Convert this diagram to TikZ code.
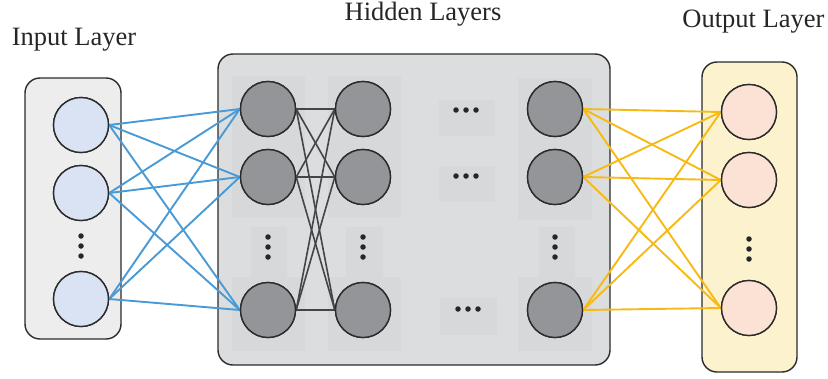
\documentclass[tikz,border=0pt]{standalone}
\usepackage{fontspec}
\setmainfont{Liberation Serif}
\newfontfamily\titlefont{Liberation Serif}
\definecolor{inbox}{HTML}{EDEDED}
\definecolor{hidbox}{HTML}{DCDDDF}
\definecolor{outbox}{HTML}{FCF3CE}
\definecolor{infill}{HTML}{DAE3F3}
\definecolor{hidfill}{HTML}{939598}
\definecolor{outfill}{HTML}{FBE2D5}
\definecolor{tile}{HTML}{D7D8D9}
\definecolor{bluel}{HTML}{4A9AD6}
\definecolor{yell}{HTML}{F7BA14}
\definecolor{greyl}{HTML}{454545}
\definecolor{edge}{HTML}{2B2B2B}
\tikzset{
  layerbox/.style={draw=edge, line width=1.4pt, rounded corners=15pt},
  neuron/.style={circle, draw=edge, line width=1.4pt, minimum size=55pt, inner sep=0pt},
  innode/.style={neuron, fill=infill},
  hidnode/.style={neuron, fill=hidfill},
  outnode/.style={neuron, fill=outfill},
  tilebox/.style={fill=tile, draw=none},
  vdot/.style={circle, fill=black!85, inner sep=0pt, minimum size=5.5pt},
  bluecon/.style={draw=bluel, line width=1.9pt},
  greycon/.style={draw=greyl, line width=1.6pt},
  yellcon/.style={draw=yell, line width=1.9pt},
  title/.style={anchor=base, font=\titlefont\fontsize{26.5}{30}\selectfont, text=black!85}
}
\begin{document}
\begin{tikzpicture}[x=1pt, y=-1pt]
\useasboundingbox (0,0) rectangle (828,378);
% boxes
\draw[layerbox, fill=inbox] (25,78) rectangle (121,339);
\draw[layerbox, fill=hidbox] (218,54) rectangle (610,365);
\draw[layerbox, fill=outbox] (702,62) rectangle (797,372);
% tiles in hidden box
\fill[tilebox] (232,76) rectangle (305,218);
\fill[tilebox] (232,277) rectangle (305,351);
\fill[tilebox] (328,76) rectangle (401,218);
\fill[tilebox] (328,277) rectangle (401,351);
\fill[tilebox] (518,78) rectangle (592,220);
\fill[tilebox] (518,277) rectangle (592,351);
\fill[tilebox] (251,227) rectangle (287,277);
\fill[tilebox] (346,227) rectangle (383,277);
\fill[tilebox] (539,227) rectangle (575,277);
\fill[tilebox] (439,100) rectangle (495,136);
\fill[tilebox] (439,166) rectangle (495,202);
\fill[tilebox] (440,298) rectangle (497,335);
% titles
\node[title] (tin) at (74,45) {Input Layer};
\node[title] (thid) at (423,20) {Hidden Layers};
\node[title] (tout) at (753.5,27) {Output Layer};
% neurons
\node[innode] (i1) at (81,125) {};
\node[innode] (i2) at (81,193) {};
\node[innode] (i3) at (81,299) {};
\node[hidnode] (a1) at (268,109) {};
\node[hidnode] (a2) at (268,177) {};
\node[hidnode] (a3) at (268,310) {};
\node[hidnode] (b1) at (363,109) {};
\node[hidnode] (b2) at (363,177) {};
\node[hidnode] (b3) at (363,310) {};
\node[hidnode] (c1) at (555,109) {};
\node[hidnode] (c2) at (555,177) {};
\node[hidnode] (c3) at (555,310) {};
\node[outnode] (o1) at (749,112) {};
\node[outnode] (o2) at (749,180) {};
\node[outnode] (o3) at (749,308) {};
% connectors
\foreach \s in {1,2,3}{
  \foreach \t in {1,2,3}{
    \draw[bluecon] (i\s.east) -- (a\t.west);
    \draw[greycon] (a\s.east) -- (b\t.west);
    \draw[yellcon] (c\s.east) -- (o\t.west);
  }
}
% redraw neurons on top
\foreach \n/\st in {i1/innode,i2/innode,i3/innode,a1/hidnode,a2/hidnode,a3/hidnode,b1/hidnode,b2/hidnode,b3/hidnode,c1/hidnode,c2/hidnode,c3/hidnode,o1/outnode,o2/outnode,o3/outnode}{
  \node[\st] at (\n) {};
}
% vertical dots
\foreach \x/\y/\nm in {81/236/vi,268/237/va,363/237/vb,555/237/vc,749/239/vo}{
  \node[vdot] (\nm1) at (\x,\y) {};
  \node[vdot] (\nm2) at (\x,\y+10) {};
  \node[vdot] (\nm3) at (\x,\y+20) {};
}
% horizontal dots
\foreach \x/\y/\nm in {456/110/ha,456/176/hb,458/309/hc}{
  \node[vdot] (\nm1) at (\x,\y) {};
  \node[vdot] (\nm2) at (\x+10,\y) {};
  \node[vdot] (\nm3) at (\x+20,\y) {};
}
\end{tikzpicture}
\end{document}
